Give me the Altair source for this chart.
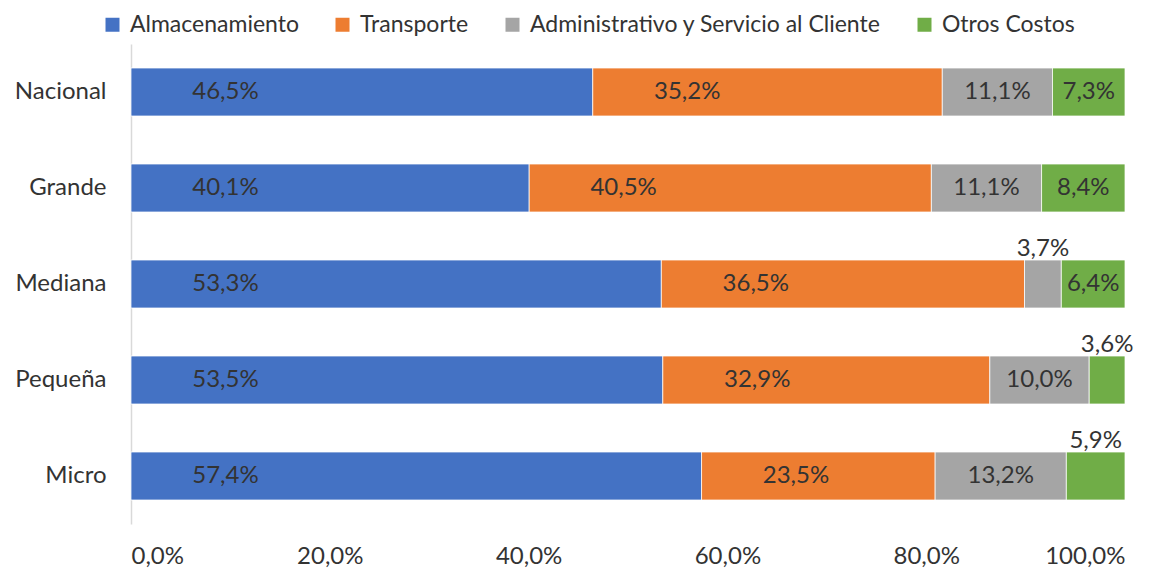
import altair as alt
import pandas as pd

categories = ["Nacional", "Grande", "Mediana", "Pequeña", "Micro"]
series = ["Almacenamiento", "Transporte", "Administrativo y Servicio al Cliente", "Otros Costos"]
almacenamiento = [46.5, 40.1, 53.3, 53.5, 57.4]
transporte = [35.2, 40.5, 36.5, 32.9, 23.5]
administrativo = [11.1, 11.1, 3.7, 10.0, 13.2]
otros = [7.3, 8.4, 6.4, 3.6, 5.9]
colors = ["#4472C4", "#ED7D31", "#A5A5A5", "#70AD47"]
x_ticks = [0, 0.2, 0.4, 0.6, 0.8, 1.0]

rows = []
for s_i, (s, vals) in enumerate(zip(series, [almacenamiento, transporte, administrativo, otros])):
    for c, v in zip(categories, vals):
        rows.append({"cat": c, "serie": s, "ord": s_i, "v": v})
df = pd.DataFrame(rows)

FONT = "Lato"
TXT = "#333333"

base = (
    alt.Chart(df)
    .transform_joinaggregate(total="sum(v)", groupby=["cat"])
    .transform_calculate(pct="datum.v / datum.total")
    .transform_window(cum="sum(pct)", groupby=["cat"], sort=[alt.SortField("ord")], frame=[None, 0])
    .transform_calculate(
        start="datum.cum - datum.pct",
        lbl="replace(format(datum.v, '.1f'), '.', ',') + '%'",
    )
)

y_enc = alt.Y(
    "cat:N",
    sort=categories,
    title=None,
    scale=alt.Scale(paddingInner=0.5, paddingOuter=0.25),
    axis=alt.Axis(
        domain=True, domainColor="#D9D9D9", domainWidth=1.5, ticks=False, grid=False,
        labelFont=FONT, labelFontSize=24, labelColor=TXT, labelPadding=25,
    ),
)

bars = base.mark_bar(stroke="white", strokeWidth=0.75).encode(
    x=alt.X(
        "start:Q",
        scale=alt.Scale(domain=[0, 1], nice=False),
        title=None,
        axis=alt.Axis(
            values=x_ticks, domain=False, ticks=False, grid=False,
            labelFont=FONT, labelFontSize=24, labelColor=TXT, labelPadding=20,
            labelExpr="replace(format(datum.value * 100, '.1f'), '.', ',') + '%'",
        ),
    ),
    x2="cum:Q",
    y=y_enc,
    color=alt.Color(
        "serie:N",
        scale=alt.Scale(domain=series, range=colors),
        sort=series,
        legend=alt.Legend(
            title=None, orient="none", direction="horizontal",
            legendX=-30, legendY=-31,
            symbolType="square", symbolSize=196, symbolStrokeWidth=0,
            labelFont=FONT, labelFontSize=23, labelColor=TXT, labelLimit=600,
            labelOffset=6, columnPadding=32,
        ),
    ),
    order=alt.Order("ord:Q"),
)

inside = base.transform_filter("datum.pct >= 0.06").transform_calculate(
    lx="datum.start + min(datum.pct / 2, 0.095)"
).mark_text(font=FONT, fontSize=24, color=TXT, align="center", baseline="middle").encode(
    x="lx:Q", y=alt.Y("cat:N", sort=categories), text="lbl:N"
)

above = base.transform_filter("datum.pct < 0.06").transform_calculate(
    lx="datum.start + datum.pct / 2"
).mark_text(font=FONT, fontSize=24, color=TXT, align="center", baseline="middle", dy=-35).encode(
    x="lx:Q", y=alt.Y("cat:N", sort=categories), text="lbl:N"
)

chart = (
    alt.layer(bars, inside, above)
    .properties(
        width=994, height=480,
        autosize=alt.AutoSizeParams(type="none"),
        padding={"left": 123, "top": 36, "right": 43, "bottom": 44},
        background="white",
    )
    .configure_view(stroke=None)
)

chart.save("out.html", embed_options={"renderer": "svg", "actions": False})
